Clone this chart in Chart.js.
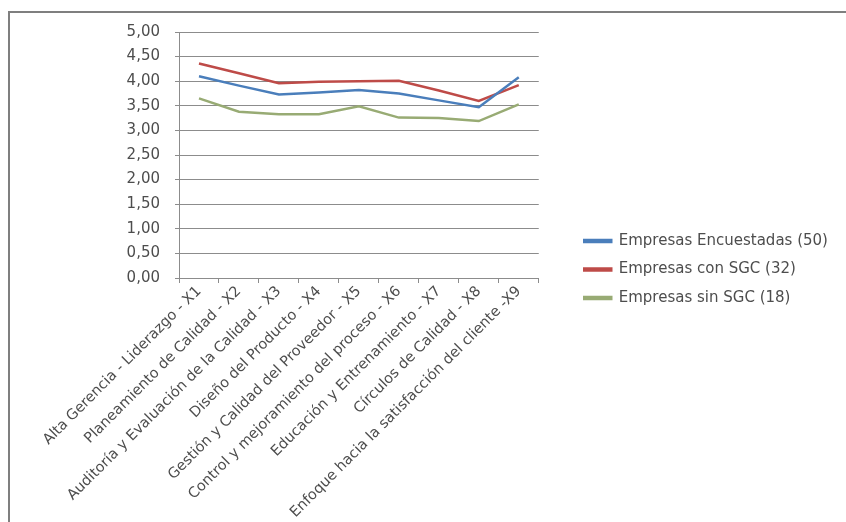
<!DOCTYPE html>
<html>
<head>
<meta charset="utf-8">
<script src="https://cdn.jsdelivr.net/npm/chart.js@4"></script>
<style>
  body { margin: 0; background: #fff; }
  #frame {
    position: absolute; left: 8px; top: 11px;
    width: 838px; height: 511px;
    border-top: 2px solid #7f7f7f; border-left: 2px solid #7f7f7f;
  }
  canvas { display: block; }
</style>
</head>
<body>
<div id="frame"><canvas id="chart"></canvas></div>
<script>
// categories and series
const categories = [
    'Alta Gerencia - Liderazgo - X1',
    'Planeamiento de Calidad - X2',
    'Auditoría y Evaluación de la Calidad - X3',
    'Diseño del Producto - X4',
    'Gestión y Calidad del Proveedor - X5',
    'Control y mejoramiento del proceso - X6',
    'Educación y Entrenamiento - X7',
    'Círculos de Calidad - X8',
    'Enfoque hacia la satisfacción del cliente -X9'
];
const seriesNames = ['Empresas Encuestadas (50)', 'Empresas con SGC (32)', 'Empresas sin SGC (18)'];
const encuestadas = [4.10, 3.91, 3.73, 3.77, 3.82, 3.75, 3.61, 3.47, 4.08];
const conSGC = [4.36, 4.16, 3.96, 3.99, 4.00, 4.01, 3.81, 3.60, 3.92];
const sinSGC = [3.65, 3.38, 3.33, 3.33, 3.49, 3.26, 3.25, 3.19, 3.53];
const yTicks = [0, 0.5, 1, 1.5, 2, 2.5, 3, 3.5, 4, 4.5, 5];

const colors = {
    blue: '#4a7ebb',
    red: '#be4b48',
    green: '#98ab74',
    grid: '#8c8c8c',
    text: '#4d4d4d'
};

function lineSet(label, data, color) {
    return {
        label: label,
        data: data,
        borderColor: color,
        backgroundColor: color,
        borderWidth: 2.5,
        pointRadius: 0,
        tension: 0,
        fill: false
    };
}

// keep the legend a fixed distance to the right of the plot area
const legendGap = {
    id: 'legendGap',
    afterLayout(chart) {
        const legend = chart.legend;
        if (!legend) return;
        legend.left = chart.chartArea.right + 32;
        legend.right = legend.left + 320;
        legend.top -= 8.5;
        legend.bottom -= 8.5;
    }
};

const ctx = document.getElementById('chart').getContext('2d');
new Chart(ctx, {
    type: 'line',
    data: {
        labels: categories,
        datasets: [
            lineSet(seriesNames[0], encuestadas, colors.blue),
            lineSet(seriesNames[1], conSGC, colors.red),
            lineSet(seriesNames[2], sinSGC, colors.green)
        ]
    },
    plugins: [legendGap],
    options: {
        responsive: true,
        maintainAspectRatio: false,
        animation: false,
        layout: { padding: { top: 19, right: 133, bottom: 0, left: 0 } },
        plugins: {
            legend: {
                position: 'right',
                labels: {
                    boxWidth: 27,
                    boxHeight: 2,
                    padding: 13.5,
                    color: colors.text,
                    font: { family: "'DejaVu Sans'", size: 15 }
                }
            },
            tooltip: { enabled: false }
        },
        scales: {
            x: {
                offset: true,
                grid: {
                    offset: true,
                    drawOnChartArea: false,
                    drawTicks: true,
                    tickLength: 5,
                    color: colors.grid
                },
                border: { color: colors.grid },
                ticks: {
                    autoSkip: false,
                    maxRotation: 45,
                    minRotation: 45,
                    padding: 0,
                    color: colors.text,
                    font: { family: "'DejaVu Sans'", size: 14.5 }
                },
                afterFit: function(scale) { scale.height = 246; }
            },
            y: {
                min: 0,
                max: 5,
                afterBuildTicks: function(scale) {
                    scale.ticks = yTicks.map(v => ({ value: v }));
                },
                grid: {
                    color: colors.grid,
                    tickLength: 4
                },
                border: { color: colors.grid },
                ticks: {
                    padding: 15,
                    color: colors.text,
                    font: { family: "'DejaVu Sans'", size: 15 },
                    callback: function(value) {
                        return value.toFixed(2).replace('.', ',');
                    }
                },
                afterFit: function(scale) {
                    scale.width = 169;
                    scale.paddingTop = 0;
                    scale.paddingBottom = 0;
                }
            }
        }
    }
});
</script>
</body>
</html>
